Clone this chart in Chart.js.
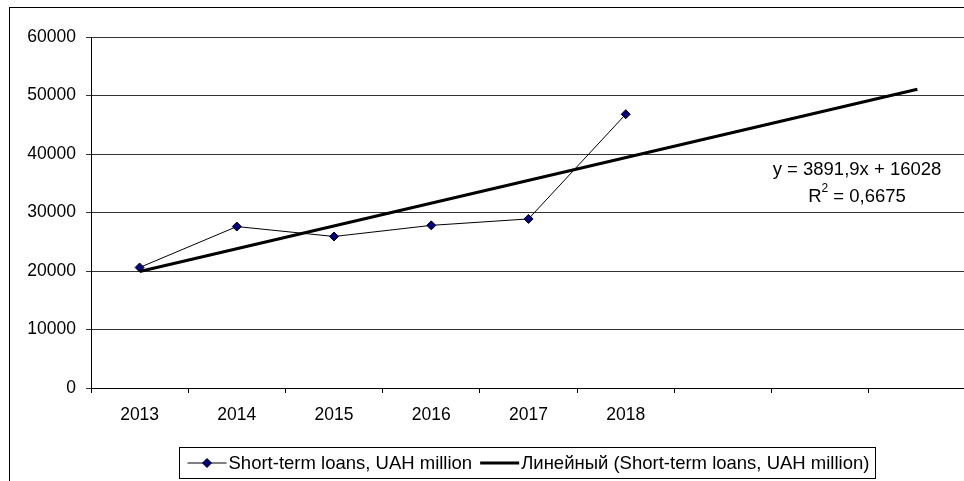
<!DOCTYPE html>
<html>
<head>
<meta charset="utf-8">
<script src="https://cdn.jsdelivr.net/npm/chart.js@4.4.0/dist/chart.umd.min.js"></script>
<style>
  html, body { margin: 0; padding: 0; overflow: hidden; background: #fff; }
  #wrap { position: relative; width: 1000px; height: 500px; }
</style>
</head>
<body>
<div id="wrap"><canvas id="loansChart"></canvas></div>
<script>
// categories (three empty slots on the right hold the trend forecast)
const yearLabels = ['2013', '2014', '2015', '2016', '2017', '2018', '', '', ''];
const loanValues = [20600, 27600, 25900, 27800, 28900, 46800];
const yMin = 0, yMax = 60000, yStep = 10000;

// linear trendline as printed on the chart
const trendSlope = 3891.9;
const trendIntercept = 16028;
const trendEquation = 'y = 3891,9x + 16028';
const trendR2 = '0,6675';

const seriesName = 'Short-term loans, UAH million';
const trendName = 'Линейный (Short-term loans, UAH million)';

const FAMILY = '"Liberation Sans", Arial, sans-serif';
const TICK_SIZE = 17.5;
const TEXT_FONT = `18.5px ${FAMILY}`;
const SUP_FONT = `12px ${FAMILY}`;

// trend only needs its two ends, it's a straight line
const trendValues = yearLabels.map((_, i) =>
  (i === 0 || i === yearLabels.length - 1) ? trendSlope * (i + 1) + trendIntercept : null);

function diamond(ctx, x, y, r) {
  ctx.beginPath();
  ctx.moveTo(x, y - r);
  ctx.lineTo(x + r, y);
  ctx.lineTo(x, y + r);
  ctx.lineTo(x - r, y);
  ctx.closePath();
  ctx.fillStyle = '#000080';
  ctx.fill();
  ctx.strokeStyle = '#000';
  ctx.lineWidth = 1;
  ctx.stroke();
}

const extras = {
  id: 'extras',
  afterDraw(chart) {
    const ctx = chart.ctx;
    const area = chart.chartArea;
    ctx.save();

    // outer chart frame (runs off the right and bottom edge)
    ctx.strokeStyle = '#000';
    ctx.lineWidth = 1;
    ctx.strokeRect(9.5, 7.5, chart.width, chart.height);

    // equation label
    ctx.fillStyle = '#000';
    ctx.font = TEXT_FONT;
    ctx.textBaseline = 'middle';
    ctx.textAlign = 'center';
    const ex = 857;
    ctx.fillText(trendEquation, ex, 170);

    const rest = ' = ' + trendR2;
    const wR = ctx.measureText('R').width;
    const wRest = ctx.measureText(rest).width;
    ctx.font = SUP_FONT;
    const w2 = ctx.measureText('2').width;
    const rx = ex - (wR + w2 + wRest) / 2;
    ctx.textAlign = 'left';
    ctx.font = TEXT_FONT;
    ctx.fillText('R', rx, 197);
    ctx.font = SUP_FONT;
    ctx.fillText('2', rx + wR, 189);
    ctx.font = TEXT_FONT;
    ctx.fillText(rest, rx + wR + w2, 197);

    // legend
    const t1 = ctx.measureText(seriesName).width;
    const t2 = ctx.measureText(trendName).width;
    const pad = 8, mk = 39, gap = 2, sep = 8;
    const boxW = pad + mk + gap + t1 + sep + mk + gap + t2 + pad - 2;
    const cx = (area.left + area.right) / 2 - 2;
    const bx = Math.round(cx - boxW / 2) + 0.5;
    const by = 447.5, bh = 31;
    ctx.strokeStyle = '#000';
    ctx.lineWidth = 1;
    ctx.strokeRect(bx, by, Math.round(boxW), bh);

    const ly = by + bh / 2;
    let x = bx + pad;
    ctx.beginPath();
    ctx.moveTo(x, ly);
    ctx.lineTo(x + mk, ly);
    ctx.lineWidth = 1;
    ctx.stroke();
    diamond(ctx, x + mk / 2, ly, 4.5);
    x += mk + gap;
    ctx.fillStyle = '#000';
    ctx.fillText(seriesName, x, ly + 1);
    x += t1 + sep;

    ctx.beginPath();
    ctx.moveTo(x, ly);
    ctx.lineTo(x + mk, ly);
    ctx.lineWidth = 3;
    ctx.strokeStyle = '#000';
    ctx.stroke();
    x += mk + gap;
    ctx.fillText(trendName, x, ly + 1);

    ctx.restore();
  }
};

const ctx = document.getElementById('loansChart').getContext('2d');
const loansChart = new Chart(ctx, {
  type: 'line',
  data: {
    labels: yearLabels,
    datasets: [{
      label: seriesName,
      data: loanValues,
      borderColor: '#000',
      borderWidth: 1,
      pointStyle: 'rectRot',
      pointRadius: 4.5,
      pointBackgroundColor: '#000080',
      pointBorderColor: '#000',
      pointBorderWidth: 1,
      tension: 0,
      order: 1
    }, {
      label: trendName,
      data: trendValues,
      borderColor: '#000',
      borderWidth: 3,
      pointRadius: 0,
      spanGaps: true,
      tension: 0,
      order: 0
    }]
  },
  options: {
    responsive: true,
    maintainAspectRatio: false,
    animation: false,
    devicePixelRatio: 1,
    layout: { padding: { left: 0, top: 37, right: 34, bottom: 0 } },
    plugins: {
      legend: { display: false },
      tooltip: { enabled: false }
    },
    scales: {
      x: {
        offset: true,
        afterFit: s => { s.height = 112; },
        grid: { display: true, offset: true, drawOnChartArea: false, drawTicks: true, tickLength: 5, color: '#000' },
        border: { display: true, color: '#000', width: 1 },
        ticks: { color: '#000', font: { family: FAMILY, size: TICK_SIZE }, padding: 12, maxRotation: 0, autoSkip: false }
      },
      y: {
        min: yMin,
        max: yMax,
        afterFit: s => { s.width = 91; },
        grid: { color: '#333', lineWidth: 1, tickLength: 5 },
        border: { display: true, color: '#000', width: 1 },
        ticks: {
          stepSize: yStep,
          color: '#000',
          font: { family: FAMILY, size: TICK_SIZE },
          padding: 10,
          callback: v => String(v)
        }
      }
    }
  },
  plugins: [extras]
});
</script>
</body>
</html>
